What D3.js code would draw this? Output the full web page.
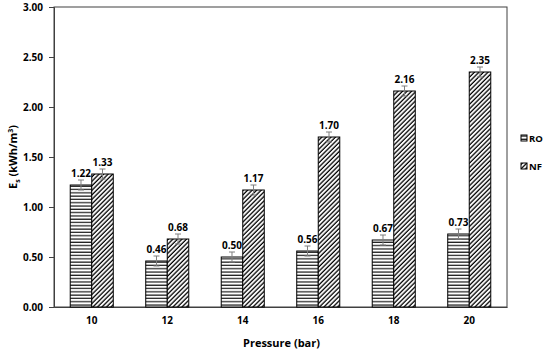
<!DOCTYPE html>
<html>
<head>
<meta charset="utf-8">
<script src="https://cdn.jsdelivr.net/npm/d3@7"></script>
<style>
  body { margin: 0; background: #fff; }
  text { font-family: "Open Sans", "Liberation Sans", sans-serif; font-weight: bold; fill: #000; }
</style>
</head>
<body>
<svg width="550" height="352"></svg>
<script>
var pressures = ["10", "12", "14", "16", "18", "20"];
var series = ["RO", "NF"];
var roValues = [1.22, 0.46, 0.50, 0.56, 0.67, 0.73];
var nfValues = [1.33, 0.68, 1.17, 1.70, 2.16, 2.35];
var roErrors = [0.05, 0.05, 0.05, 0.05, 0.05, 0.05];
var nfErrors = [0.05, 0.05, 0.05, 0.05, 0.05, 0.05];
var yTicks = [0, 0.5, 1, 1.5, 2, 2.5, 3];

var svg = d3.select("svg");
var margin = {left: 54, right: 43, top: 7, bottom: 45};
var width = 550 - margin.left - margin.right;
var height = 352 - margin.top - margin.bottom;

var defs = svg.append("defs");
var horiz = defs.append("pattern")
    .attr("id", "pat-ro")
    .attr("patternUnits", "userSpaceOnUse")
    .attr("width", 6).attr("height", 3.3);
horiz.append("rect").attr("width", 6).attr("height", 3.3).attr("fill", "#fff");
horiz.append("line").attr("x1", 0).attr("x2", 6).attr("y1", 1).attr("y2", 1)
    .attr("stroke", "#000").attr("stroke-width", 1.1);

var diag = defs.append("pattern")
    .attr("id", "pat-nf")
    .attr("patternUnits", "userSpaceOnUse")
    .attr("width", 3.2).attr("height", 3.2)
    .attr("patternTransform", "rotate(45)");
diag.append("rect").attr("width", 3.2).attr("height", 3.2).attr("fill", "#fff");
diag.append("line").attr("x1", 1).attr("x2", 1).attr("y1", 0).attr("y2", 3.2)
    .attr("stroke", "#000").attr("stroke-width", 1.3);

var fills = {RO: "url(#pat-ro)", NF: "url(#pat-nf)"};

var g = svg.append("g").attr("transform", "translate(" + margin.left + "," + margin.top + ")");

var x0 = d3.scaleBand().domain(pressures).range([0, width]).paddingInner(0.43).paddingOuter(0.215);
var x1 = d3.scaleBand().domain(series).range([0, x0.bandwidth()]);
var y = d3.scaleLinear().domain([0, 3]).range([height, 0]);

// frame
g.append("rect").attr("width", width).attr("height", height)
    .attr("fill", "none").attr("stroke", "#404040").attr("stroke-width", 1);

var yAxis = g.append("g")
    .call(d3.axisLeft(y).tickValues(yTicks).tickFormat(d3.format(".2f")).tickSize(5).tickPadding(6));
yAxis.select(".domain").attr("stroke", "#404040");
yAxis.selectAll(".tick line").attr("stroke", "#404040");
yAxis.selectAll("text").style("font-size", "10px");

var xAxis = g.append("g").attr("transform", "translate(0," + height + ")")
    .call(d3.axisBottom(x0).tickSize(0).tickPadding(10));
xAxis.select(".domain").attr("stroke", "#404040");
xAxis.selectAll("text").style("font-size", "10px");

var rows = pressures.map(function(p, i) {
  return {p: p, bars: [
    {s: "RO", v: roValues[i], e: roErrors[i]},
    {s: "NF", v: nfValues[i], e: nfErrors[i]}
  ]};
});

var grp = g.selectAll(".grp").data(rows).enter().append("g")
    .attr("transform", function(d) { return "translate(" + x0(d.p) + ",0)"; });

var bar = grp.selectAll(".bar").data(function(d) { return d.bars; }).enter().append("g");

bar.append("rect")
    .attr("x", function(d) { return x1(d.s); })
    .attr("y", function(d) { return y(d.v); })
    .attr("width", x1.bandwidth())
    .attr("height", function(d) { return height - y(d.v); })
    .attr("fill", function(d) { return fills[d.s]; })
    .attr("stroke", "#000").attr("stroke-width", 1);

// error bars
var cx = function(d) { return x1(d.s) + x1.bandwidth() / 2; };
bar.append("line")
    .attr("x1", cx).attr("x2", cx)
    .attr("y1", function(d) { return y(d.v + d.e); })
    .attr("y2", function(d) { return y(d.v - d.e); })
    .attr("stroke", "#7f7f7f").attr("stroke-width", 1);
[1, -1].forEach(function(sgn) {
  bar.append("line")
      .attr("x1", function(d) { return cx(d) - 3; })
      .attr("x2", function(d) { return cx(d) + 3; })
      .attr("y1", function(d) { return y(d.v + sgn * d.e); })
      .attr("y2", function(d) { return y(d.v + sgn * d.e); })
      .attr("stroke", "#7f7f7f").attr("stroke-width", 1);
});

bar.append("text")
    .attr("x", cx)
    .attr("y", function(d) { return y(d.v + d.e) - 3; })
    .attr("text-anchor", "middle")
    .style("font-size", "10px")
    .text(function(d) { return d.v.toFixed(2); });

// axis titles
svg.append("text")
    .attr("x", margin.left + width / 2 + 1)
    .attr("y", 347)
    .attr("text-anchor", "middle")
    .style("font-size", "11px")
    .text("Pressure (bar)");

var yt = svg.append("text")
    .attr("transform", "translate(17," + (margin.top + height / 2) + ") rotate(-90)")
    .attr("text-anchor", "middle")
    .style("font-size", "11px");
yt.append("tspan").text("E");
yt.append("tspan").attr("dy", 3).style("font-size", "7px").text("s");
yt.append("tspan").attr("dy", -3).text(" (kWh/m");
yt.append("tspan").attr("dy", -4).style("font-size", "7px").text("3");
yt.append("tspan").attr("dy", 4).text(")");

// legend
var leg = svg.selectAll(".leg").data(series).enter().append("g")
    .attr("transform", function(d, i) { return "translate(521," + (135 + i * 28) + ")"; });
leg.append("rect").attr("width", 6).attr("height", 6)
    .attr("fill", function(d) { return fills[d]; })
    .attr("stroke", "#000").attr("stroke-width", 1);
leg.append("text").attr("x", 8).attr("y", 7)
    .style("font-size", "9.5px")
    .text(function(d) { return d; });
</script>
</body>
</html>
